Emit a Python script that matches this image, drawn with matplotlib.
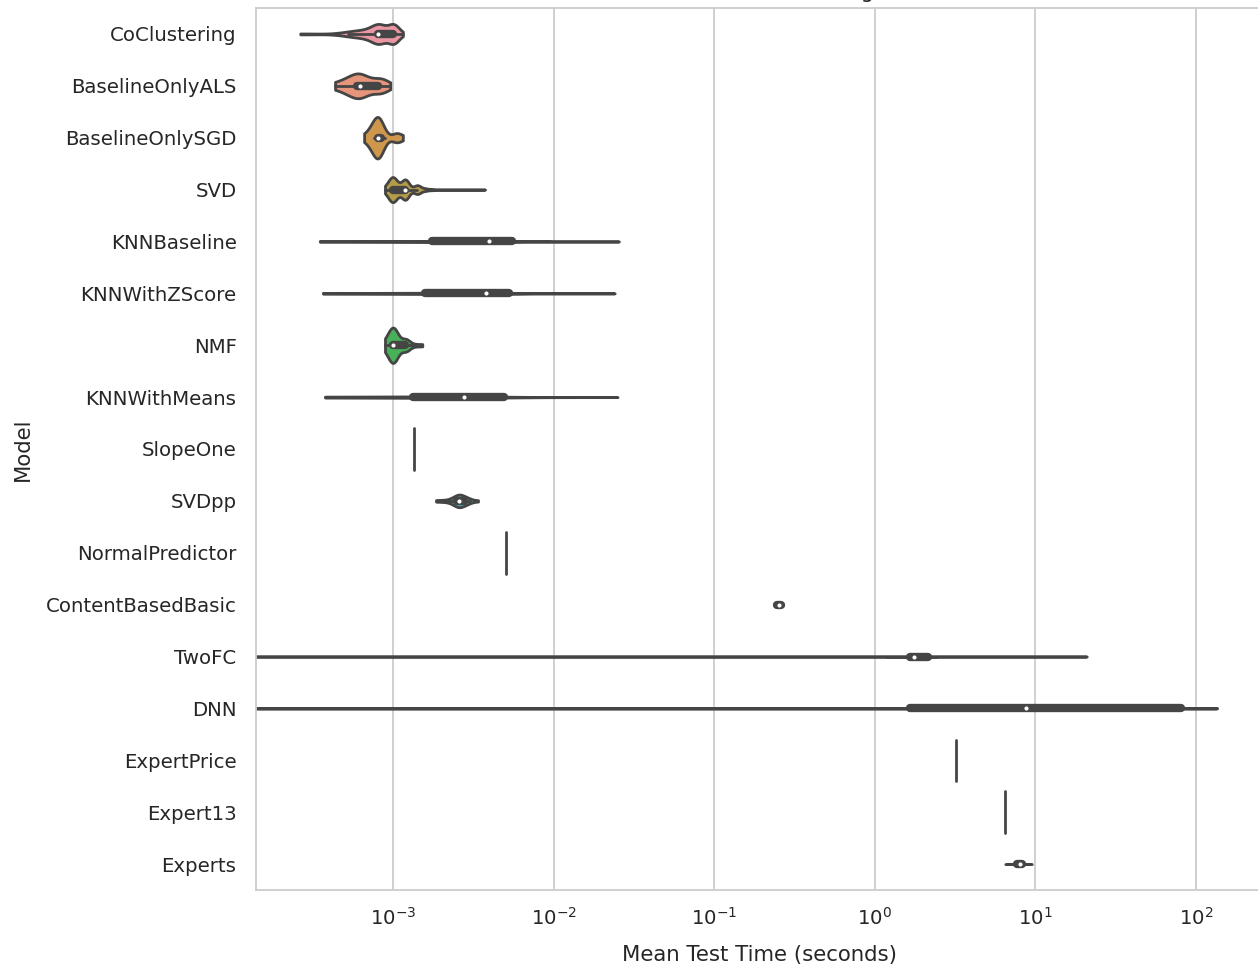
import numpy as np
import matplotlib
matplotlib.use("Agg")
import matplotlib.pyplot as plt
import seaborn as sns

models = ["CoClustering", "BaselineOnlyALS", "BaselineOnlySGD", "SVD", "KNNBaseline",
          "KNNWithZScore", "NMF", "KNNWithMeans", "SlopeOne", "SVDpp", "NormalPredictor",
          "ContentBasedBasic", "TwoFC", "DNN", "ExpertPrice", "Expert13", "Experts"]

# mean test time (seconds) of the runs, and how many runs gave each value
coclustering_t = [2.64e-4, 5.2e-4, 6.0e-4, 6.6e-4, 7.2e-4, 8.06e-4, 9.0e-4, 1.0e-3, 1.06e-3, 1.15e-3]
coclustering_n = [1, 3, 3, 3, 3, 18, 3, 18, 3, 1]

als_t = [4.35e-4, 4.9e-4, 5.3e-4, 5.6e-4, 5.85e-4, 6.05e-4, 6.4e-4, 6.8e-4, 7.2e-4, 7.6e-4,
         8.0e-4, 8.3e-4, 8.6e-4, 9.0e-4, 9.6e-4]
als_n = [1, 1, 1, 1, 1, 5, 1, 1, 1, 1, 1, 2, 1, 1, 1]

sgd_t = [6.6e-4, 7.2e-4, 7.6e-4, 8.0e-4, 8.4e-4, 8.9e-4, 1.02e-3, 1.06e-3, 1.15e-3]
sgd_n = [1, 1, 1, 12, 1, 1, 1, 2, 1]

svd_t = [8.9e-4, 9.6e-4, 1.0e-3, 1.09e-3, 1.19e-3, 1.3e-3, 1.41e-3, 1.5e-3, 1.6e-3, 1.75e-3,
         2.2e-3, 3.74e-3]
svd_n = [5, 60, 200, 20, 200, 15, 80, 20, 20, 12, 3, 1]

knn_baseline_t = [3.5e-4, 6e-4, 1.0e-3, 1.4e-3, 1.75e-3, 2.5e-3, 3.2e-3, 3.96e-3, 4.6e-3, 5.3e-3,
                  6.0e-3, 7.5e-3, 9.5e-3, 1.2e-2, 1.6e-2, 2.0e-2, 2.55e-2]
knn_baseline_n = [1, 2, 4, 8, 14, 10, 10, 12, 10, 10, 12, 6, 4, 2, 1, 1, 1]

knn_zscore_t = [3.66e-4, 6e-4, 1.0e-3, 1.3e-3, 1.58e-3, 2.3e-3, 3.0e-3, 3.8e-3, 4.5e-3, 5.1e-3,
                5.74e-3, 7.2e-3, 9.0e-3, 1.15e-2, 1.5e-2, 1.9e-2, 2.4e-2]
knn_zscore_n = [1, 2, 4, 8, 14, 10, 10, 12, 10, 10, 12, 6, 4, 2, 1, 1, 1]

nmf_t = [8.9e-4, 9.6e-4, 1.0e-3, 1.19e-3, 1.23e-3, 1.37e-3, 1.52e-3]
nmf_n = [1, 1, 16, 5, 1, 1, 1]

knn_means_t = [3.77e-4, 6e-4, 9e-4, 1.1e-3, 1.33e-3, 1.8e-3, 2.3e-3, 2.77e-3, 3.6e-3, 4.6e-3,
               5.74e-3, 7.5e-3, 9.5e-3, 1.2e-2, 1.6e-2, 2.0e-2, 2.5e-2]
knn_means_n = [1, 2, 4, 8, 14, 10, 10, 12, 10, 10, 12, 6, 4, 2, 1, 1, 1]

slope_one_t = [1.35e-3]
slope_one_n = [10]

svdpp_t = [1.85e-3, 2.1e-3, 2.4e-3, 2.5e-3, 2.58e-3, 2.7e-3, 2.85e-3, 3.0e-3, 3.38e-3]
svdpp_n = [1, 1, 2, 3, 4, 3, 2, 2, 1]

normal_t = [5.05e-3]
normal_n = [10]

content_t = [0.238, 0.245, 0.253, 0.26, 0.268]
content_n = [1, 3, 4, 3, 1]

twofc_t = [1.0e-4, 0.5, 1.2, 1.6, 1.66, 1.72, 1.75, 1.8, 1.95, 2.14, 2.4, 5.0, 12.0, 20.9]
twofc_n = [1, 1, 2, 5, 12, 6, 10, 6, 6, 12, 3, 1, 1, 1]

dnn_t = [1.0e-4, 0.05, 0.5, 1.2, 1.66, 3.0, 5.5, 8.73, 15, 30, 80.7, 100, 135]
dnn_n = [1, 1, 1, 2, 6, 3, 4, 5, 3, 1, 7, 2, 1]

expert_price_t = [3.2]
expert_price_n = [10]

expert13_t = [6.47]
expert13_n = [10]

experts_t = [6.5, 7.2, 7.7, 8.0, 8.3, 8.8, 9.5]
experts_n = [1, 2, 3, 4, 3, 2, 1]

runs = [
    (coclustering_t, coclustering_n), (als_t, als_n), (sgd_t, sgd_n), (svd_t, svd_n),
    (knn_baseline_t, knn_baseline_n), (knn_zscore_t, knn_zscore_n), (nmf_t, nmf_n),
    (knn_means_t, knn_means_n), (slope_one_t, slope_one_n), (svdpp_t, svdpp_n),
    (normal_t, normal_n), (content_t, content_n), (twofc_t, twofc_n), (dnn_t, dnn_n),
    (expert_price_t, expert_price_n), (expert13_t, expert13_n), (experts_t, experts_n),
]


def kde(data, grid):
    bw = data.std() * len(data) ** (-1 / 5)
    z = (grid[None, :] - data[:, None]) / bw
    return np.exp(-0.5 * z ** 2).sum(0) / (len(data) * bw * np.sqrt(2 * np.pi))


sns.set_style("whitegrid")
plt.rcParams["font.family"] = ["DejaVu Sans"]

colors = [sns.desaturate(c, 0.75) for c in sns.husl_palette(len(models), l=0.7)]
lum = min((max(c) + min(c)) / 2 for c in colors) * 0.6
gray = (lum, lum, lum)
lw = 2.0
half = 0.4

samples = [np.repeat(np.asarray(t, float), n) for t, n in runs]
supports, densities = [], []
for data in samples:
    if np.ptp(data) == 0:
        supports.append(None)
        densities.append(None)
        continue
    grid = np.geomspace(data.min(), data.max(), 800)
    supports.append(grid)
    densities.append(kde(data, grid))
peak = max(d.max() for d in densities if d is not None)

fig = plt.figure(figsize=(12.58, 9.66), dpi=100)
ax = fig.add_axes([256 / 1258, 1 - 890 / 966, (1262 - 256) / 1258, 882 / 966])

for i, (data, grid, dens) in enumerate(zip(samples, supports, densities)):
    if grid is None:
        ax.plot([data[0], data[0]], [i - half, i + half], color=gray, lw=lw)
        continue
    w = dens / peak * half
    ax.fill_between(grid, i - w, i + w, facecolor=colors[i], edgecolor=gray, lw=lw)
    q25, q50, q75 = np.percentile(data, [25, 50, 75])
    lim = 1.5 * (q75 - q25)
    lo = data[data >= q25 - lim].min()
    hi = data[data <= q75 + lim].max()
    ax.plot([lo, hi], [i, i], color=gray, lw=lw)
    ax.plot([q25, q75], [i, i], color=gray, lw=lw * 3)
    ax.scatter(q50, i, s=(lw * 2) ** 2, color="white", edgecolor=gray, zorder=3)

ax.set_xscale("log")
ax.set_xlim(1.4e-4, 258)
ax.set_ylim(len(models) - 0.5, -0.5)
ax.set_yticks(range(len(models)))
ax.set_yticklabels(models)
ax.yaxis.grid(False)
ax.xaxis.grid(True, which="major", color="0.8", lw=1.3)
ax.tick_params(axis="y", length=0, pad=14, labelsize=14.2, labelcolor="0.15")
ax.tick_params(axis="x", which="both", length=0, pad=12, labelsize=14.2, labelcolor="0.15")
for s in ax.spines.values():
    s.set_color("0.8")
    s.set_linewidth(1.3)
ax.set_xlabel("Mean Test Time (seconds)", fontsize=15.3, color="0.15", labelpad=12)
ax.set_ylabel("Model", fontsize=15.3, color="0.15", labelpad=9)
ax.set_title("Model Test Time Ranking", fontsize=15, color="0.15", pad=7, x=0.486)

fig.savefig("out.png", dpi=100)
